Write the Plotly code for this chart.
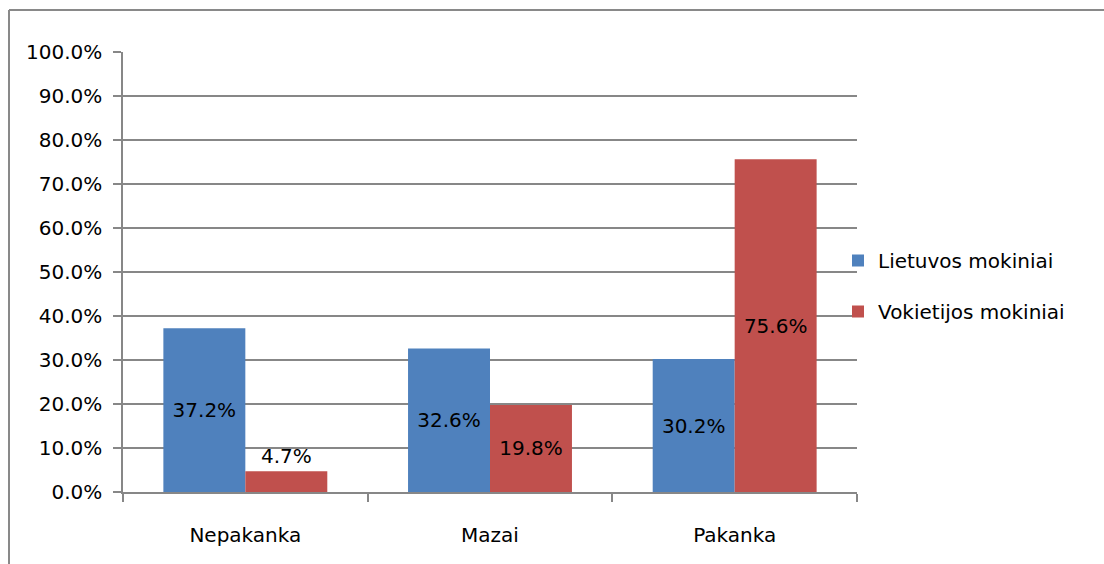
import plotly.graph_objects as go

# Survey answers by group (percent of respondents)
categories = ["Nepakanka", "Mazai", "Pakanka"]
lt_values = [37.2, 32.6, 30.2]
de_values = [4.7, 19.8, 75.6]
series_names = ["Lietuvos mokiniai", "Vokietijos mokiniai"]
y_ticks = [0, 10, 20, 30, 40, 50, 60, 70, 80, 90, 100]
y_tick_labels = [f"{v:.1f}%" for v in y_ticks]

BLUE = "#4F81BD"
RED = "#C0504D"
GRID = "#878787"
FONT = "DejaVu Sans"
FS = 20

W, H = 1104, 564
ML, MR, MT, MB = 123, 247, 52, 72
PW, PH = W - ML - MR, H - MT - MB


def positions(vals):
    # labels sit inside the bar unless the bar is too short to hold them
    return ["inside" if v >= 8 else "outside" for v in vals]


fig = go.Figure()
for name, vals, col in [(series_names[0], lt_values, BLUE), (series_names[1], de_values, RED)]:
    fig.add_trace(go.Bar(
        x=categories, y=vals, name=name, legendgroup=name,
        marker=dict(color=col, line=dict(width=0)),
        texttemplate="%{y:.1f}%",
        textposition=positions(vals),
        insidetextanchor="middle",
        constraintext="none",
        textfont=dict(family=FONT, size=FS, color="black"),
        cliponaxis=False,
    ))

# outer chart frame (left and top edges visible)
fx0 = (9 - ML) / PW
fy1 = (H - 10 - MB) / PH
fig.add_shape(type="line", xref="paper", yref="paper", x0=fx0, x1=fx0, y0=-1, y1=fy1,
              line=dict(color="#898989", width=2))
fig.add_shape(type="line", xref="paper", yref="paper", x0=fx0, x1=2, y0=fy1, y1=fy1,
              line=dict(color="#898989", width=2))

fig.update_layout(
    width=W, height=H,
    margin=dict(l=ML, r=MR, t=MT, b=MB, pad=0),
    paper_bgcolor="white", plot_bgcolor="white",
    barmode="group", bargap=0.33, bargroupgap=0,
    font=dict(family=FONT, size=FS, color="black"),
    uniformtext=dict(mode="show", minsize=FS),
    showlegend=True,
    legend=dict(
        x=(838 - ML) / PW, xanchor="left",
        y=(H - MB - 286) / PH, yanchor="middle",
        tracegroupgap=22, traceorder="grouped",
        font=dict(family=FONT, size=FS, color="black"),
        bgcolor="rgba(0,0,0,0)",
    ),
    xaxis=dict(
        type="category", showgrid=False,
        showline=True, linecolor=GRID, linewidth=1.5,
        ticks="outside", ticklen=8, tickcolor=GRID, tickwidth=1.5,
        tickson="boundaries", ticklabelstandoff=24,
        tickfont=dict(family=FONT, size=FS),
    ),
    yaxis=dict(
        range=[0, 100], tickvals=y_ticks, ticktext=y_tick_labels,
        showgrid=True, gridcolor=GRID, gridwidth=1.5,
        showline=True, linecolor=GRID, linewidth=1.5,
        ticks="outside", ticklen=8, tickcolor=GRID, tickwidth=1.5,
        zeroline=False, ticklabelstandoff=7,
        tickfont=dict(family=FONT, size=FS),
    ),
)

fig.write_html("out.html")
